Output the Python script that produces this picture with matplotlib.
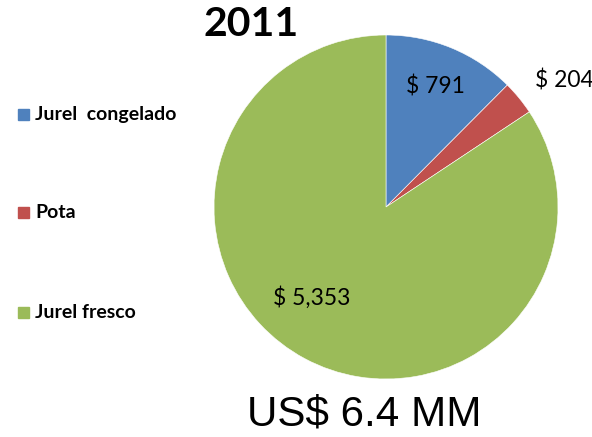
import numpy as np
import matplotlib
matplotlib.use("Agg")
import matplotlib.pyplot as plt

# Datos del grafico (miles de US$)
categorias = ["Jurel  congelado", "Pota", "Jurel fresco"]
valores = [791, 204, 5353]
etiquetas = ["$ 791", "$ 204", "$ 5,353"]
colores = ["#4F81BD", "#C0504D", "#9BBB59"]
anio = "2011"
total_texto = "US$ 6.4 MM"

W, H = 592, 437
fig = plt.figure(figsize=(W / 100, H / 100), dpi=100)

# eje cuadrado del pie (en pixeles de la imagen)
cx, cy, r = 386, 207, 172
ax = fig.add_axes([(cx - r) / W, (H - cy - r) / H, 2 * r / W, 2 * r / H])
wedges, _ = ax.pie(valores, colors=colores, startangle=90, counterclock=False,
                   wedgeprops=dict(edgecolor="white", linewidth=0.4))
ax.set_xlim(-1, 1)
ax.set_ylim(-1, 1)
ax.set_aspect("equal")
ax.axis("off")

# etiquetas de valor: radio y ajuste de angulo por sector
radios = [0.76, 1.27, 0.68]
ajustes = [0, -4, -11]
for w, txt, rr, da in zip(wedges, etiquetas, radios, ajustes):
    ang = np.deg2rad((w.theta1 + w.theta2) / 2 + da)
    ax.text(rr * np.cos(ang), rr * np.sin(ang), txt, ha="center", va="center",
            fontsize=16.5, family="Lato", clip_on=False)

fig.text(251 / W, 1 - 25 / H, anio, ha="center", va="center",
         fontsize=29.5, fontweight="bold", family="Lato")
fig.text(364 / W, 1 - 415 / H, total_texto, ha="center", va="center",
         fontsize=30.3, family="Liberation Sans")

# leyenda manual a la izquierda
ys = [115, 213, 313]
for y, cat, col in zip(ys, categorias, colores):
    fig.patches.append(plt.Rectangle((18 / W, 1 - (y + 5) / H), 11 / W, 11 / H,
                                     transform=fig.transFigure, color=col))
    fig.text(35 / W, 1 - y / H, cat, ha="left", va="center",
             fontsize=14, fontweight="bold", family="Lato")

fig.savefig("out.png", dpi=100)
